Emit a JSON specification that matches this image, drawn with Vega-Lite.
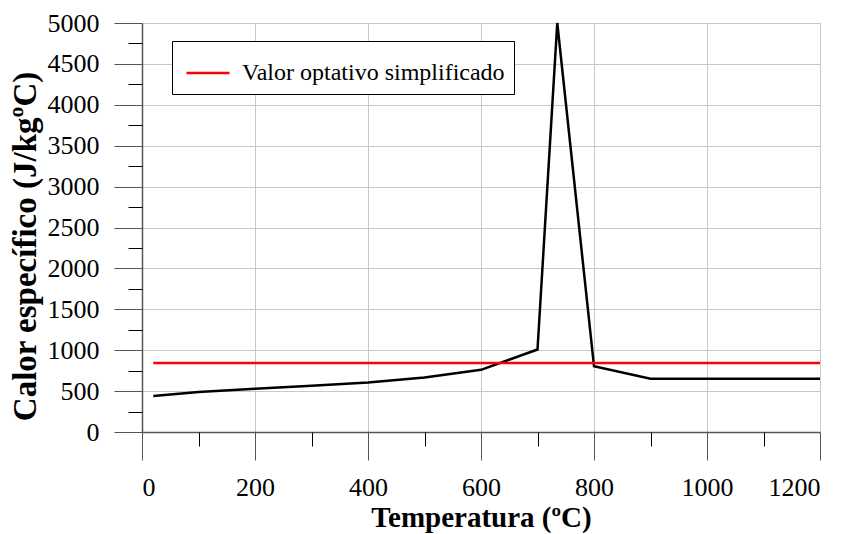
{
  "$schema": "https://vega.github.io/schema/vega-lite/v6.json",
  "width": 678,
  "height": 409,
  "autosize": {"type": "none"},
  "padding": {"left": 142, "top": 23, "right": 30, "bottom": 102},
  "background": "white",
  "config": {
    "view": {"stroke": null},
    "font": "Liberation Serif",
    "axis": {"labelFont": "Liberation Serif", "titleFont": "Liberation Serif", "format": "d"},
    "legend": {"labelFont": "Liberation Serif"}
  },
  "datasets": {
    "steel": [
      {"T": 20, "c": 440},
      {"T": 100, "c": 488},
      {"T": 200, "c": 530},
      {"T": 300, "c": 565},
      {"T": 400, "c": 606},
      {"T": 500, "c": 667},
      {"T": 600, "c": 760},
      {"T": 700, "c": 1008},
      {"T": 735, "c": 5000},
      {"T": 800, "c": 803},
      {"T": 900, "c": 650},
      {"T": 1200, "c": 650}
    ],
    "simple": [
      {"T": 20, "c": 843, "s": "Valor optativo simplificado"},
      {"T": 1200, "c": 843, "s": "Valor optativo simplificado"}
    ]
  },
  "resolve": {"axis": {"x": "independent", "y": "independent"}},
  "layer": [
    {
      "data": {"name": "steel"},
      "mark": {"type": "line", "color": "black", "strokeWidth": 2.5},
      "encoding": {
        "x": {
          "field": "T", "type": "quantitative",
          "scale": {"domain": [0, 1200], "nice": false},
          "axis": {
            "orient": "bottom",
            "values": [0, 200, 400, 600, 800, 1000, 1200],
            "format": "d",
            "grid": true, "gridColor": "#c8c8c8", "gridWidth": 1,
            "domainColor": "#555555", "domainWidth": 1.5,
            "tickColor": "#555555", "tickSize": 28, "tickWidth": 1,
            "labelFont": "Liberation Serif",
            "labelFontSize": 26, "labelColor": "black", "labelPadding": 14,
            "title": "Temperatura (ºC)", "titleFont": "Liberation Serif",
            "titleFontSize": 29, "titleFontWeight": "bold",
            "titleColor": "black", "titlePadding": 3
          }
        },
        "y": {
          "field": "c", "type": "quantitative",
          "scale": {"domain": [0, 5000], "nice": false},
          "axis": {
            "orient": "left",
            "values": [0, 500, 1000, 1500, 2000, 2500, 3000, 3500, 4000, 4500, 5000],
            "format": "d",
            "grid": true, "gridColor": "#c8c8c8", "gridWidth": 1,
            "domainColor": "#555555", "domainWidth": 1.5,
            "tickColor": "#555555", "tickSize": 28, "tickWidth": 1,
            "labelFont": "Liberation Serif",
            "labelFontSize": 26, "labelColor": "black", "labelPadding": 15,
            "title": "Calor específico (J/kgºC)", "titleFont": "Liberation Serif",
            "titleFontSize": 33, "titleFontWeight": "bold",
            "titleColor": "black",
            "titleX": -117, "titleY": 223, "titleBaseline": "middle", "titleAlign": "center", "titleAngle": -90
          }
        }
      }
    },
    {
      "data": {"name": "simple"},
      "mark": {"type": "line", "strokeWidth": 2.5},
      "encoding": {
        "x": {
          "field": "T", "type": "quantitative",
          "axis": {
            "orient": "bottom",
            "values": [100, 300, 500, 700, 900, 1100],
            "grid": false, "domain": false, "labels": false, "title": null,
            "tickColor": "black", "tickSize": 14, "tickWidth": 1
          }
        },
        "y": {
          "field": "c", "type": "quantitative",
          "axis": {
            "orient": "left",
            "values": [250, 750, 1250, 1750, 2250, 2750, 3250, 3750, 4250, 4750],
            "grid": false, "domain": false, "labels": false, "title": null,
            "tickColor": "black", "tickSize": 14, "tickWidth": 1
          }
        },
        "color": {
          "field": "s", "type": "nominal",
          "scale": {"domain": ["Valor optativo simplificado"], "range": ["#ff0000"]},
          "legend": {
            "title": null,
            "orient": "none",
            "legendX": 30,
            "legendY": 18,
            "direction": "vertical",
            "symbolType": "stroke",
            "symbolSize": 1850,
            "symbolStrokeWidth": 2.5,
            "symbolOffset": 4,
            "labelFont": "Liberation Serif",
            "labelFontSize": 24,
            "labelColor": "black",
            "labelOffset": 11,
            "labelLimit": 400,
            "padding": 9,
            "strokeColor": "black",
            "fillColor": "white"
          }
        }
      }
    }
  ]
}
